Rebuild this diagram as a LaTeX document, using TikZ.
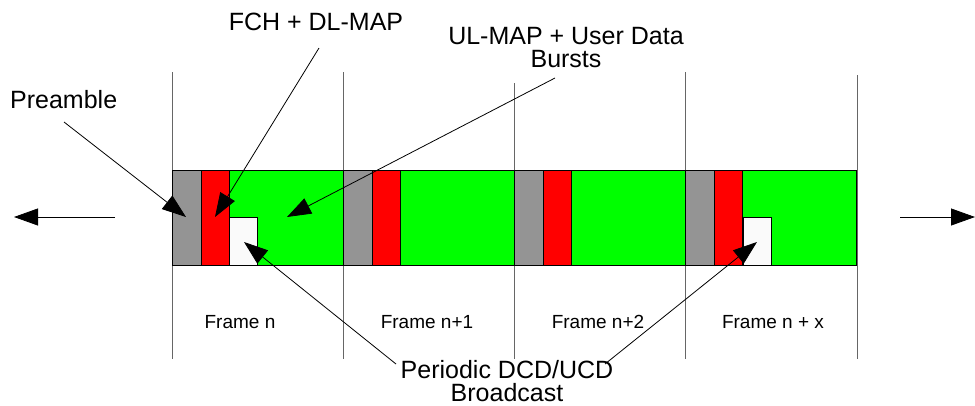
\documentclass[tikz,border=0pt]{standalone}
\usepackage{fontspec}
\setmainfont{Liberation Sans}
\usetikzlibrary{arrows.meta}
\begin{document}
\begin{tikzpicture}[x=1pt,y=-1pt,
  sep/.style={draw=black!60,line width=0.8pt},
  part/.style={draw=black,line width=0.8pt},
  pre/.style={part,fill=black!42},
  fch/.style={part,fill=red},
  ul/.style={part,fill=green},
  bc/.style={part,fill=black!2},
  ptr/.style={line width=0.8pt,-{Triangle[length=24pt,width=17pt]}},
  big/.style={font=\fontsize{25}{23}\selectfont,align=center,inner sep=0pt},
  small/.style={font=\fontsize{19}{21}\selectfont,inner sep=0pt}]
\useasboundingbox (0,0) rectangle (975,405);
% separators
\foreach \x/\t in {172/72,343/72,514/83,685/72,857/75}
  \draw[sep] (\x,\t) -- (\x,359);
% frames
\foreach \x in {172,343,514,685}{
  \draw[ul] (\x,170) rectangle (\x+171,265);
  \draw[pre] (\x,170) rectangle (\x+29,265);
  \draw[fch] (\x+29,170) rectangle (\x+57,265);
}
\draw[bc] (229,217) rectangle (257,265);
\draw[bc] (743,217) rectangle (771,265);
% targets
\coordinate (tPre) at (186,217);
\coordinate (tFch) at (215,217);
\coordinate (tUl) at (287,217);
\coordinate (tB1) at (244,242);
\coordinate (tB2) at (757,242);
% labels
\node[big,anchor=west] (lPre) at (10,100) {Preamble};
\node[big] (lFch) at (316,22) {FCH + DL-MAP};
\node[big] (lUl) at (566,48) {UL-MAP + User Data\\Bursts};
\node[big] (lBc) at (507,381) {Periodic DCD/UCD\\Broadcast};
\node[small] (f1) at (240,322) {Frame n};
\node[small] (f2) at (427,322) {Frame n+1};
\node[small] (f3) at (598,322) {Frame n+2};
\node[small] (f4) at (773,322) {Frame n + x};
% pointers
\coordinate (sPre) at (64,122);
\coordinate (sFch) at (319,48);
\coordinate (sUl) at (555,78);
\coordinate (sB1) at (396,364);
\coordinate (sB2) at (605,364);
\draw[ptr] (sPre) -- (tPre);
\draw[ptr] (sFch) -- (tFch);
\draw[ptr] (sUl) -- (tUl);
\draw[ptr] (sB1) -- (tB1);
\draw[ptr] (sB2) -- (tB2);
% time arrows
\coordinate (lA) at (115,217);
\coordinate (lB) at (14,217);
\coordinate (rA) at (900,217);
\coordinate (rB) at (975,217);
\draw[ptr] (lA) -- (lB);
\draw[ptr] (rA) -- (rB);
\end{tikzpicture}
\end{document}
